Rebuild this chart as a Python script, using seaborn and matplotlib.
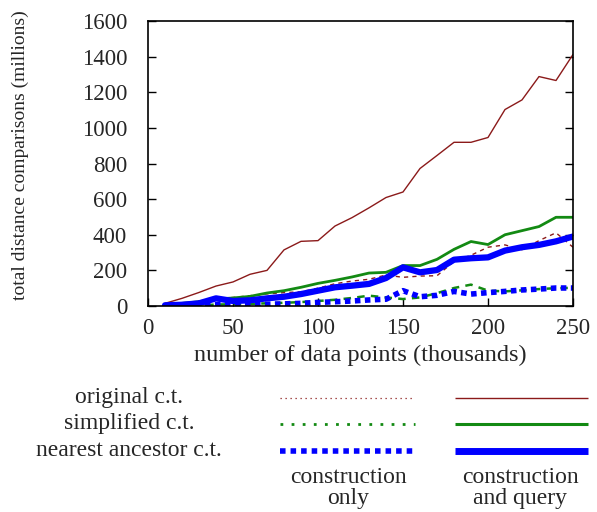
import numpy as np
import pandas as pd
import seaborn as sns
import matplotlib
matplotlib.use("Agg")
import matplotlib.pyplot as plt
from matplotlib.lines import Line2D

sns.set_style("ticks")
plt.rcParams['font.family'] = ['Liberation Serif', 'DejaVu Serif']

x_vals = [10, 20, 30, 40, 50, 60, 70, 80, 90, 100, 110, 120, 130, 140, 150,
          160, 170, 180, 190, 200, 210, 220, 230, 240, 250]

orig_cq = [15, 43, 76, 112, 135, 178, 200, 315, 363, 367, 449, 496, 551, 609, 640,
           772, 845, 919, 919, 946, 1103, 1157, 1288, 1266, 1412]
orig_c = [5, 15, 28, 40, 48, 58, 68, 75, 80, 100, 125, 140, 150, 174, 161,
          168, 170, 250, 285, 330, 343, 316, 367, 411, 330]
simp_cq = [7, 15, 24, 39, 45, 54, 73, 86, 105, 127, 144, 163, 185, 189, 227,
           227, 262, 318, 362, 345, 400, 423, 446, 498, 498]
simp_c = [1, 2, 3, 8, 10, 12, 15, 18, 22, 28, 35, 45, 58, 48, 39,
          48, 72, 101, 120, 86, 82, 88, 95, 100, 102]
near_cq = [4, 7, 15, 43, 28, 32, 43, 52, 67, 86, 105, 114, 124, 157, 217,
           189, 202, 260, 268, 273, 311, 330, 343, 363, 390]
near_c = [0, 0, 2, 8, 6, 8, 10, 12, 15, 20, 24, 28, 34, 38, 86,
          52, 60, 82, 67, 75, 82, 90, 95, 101, 101]

row_labels = ["original c.t.", "simplified c.t.", "nearest ancestor c.t."]
col_labels = ["construction\nonly", "construction\nand query"]
xlabel = "number of data points (thousands)"
ylabel = "total distance comparisons (millions)"

c_red = "#8b1a1a"
c_green = "#138a13"
c_blue = "#0000ff"

fig = plt.figure(figsize=(5.97, 5.12), dpi=100)
ax = fig.add_axes([148/597, 1-306/512, (573-148)/597, (306-21)/512])

series = [
    (orig_c, c_red, 1.0, (0, (3, 3))),
    (simp_c, c_green, 1.8, (0, (3, 2.5))),
    (near_c, c_blue, 4.0, (0, (1, 0.8))),
    (orig_cq, c_red, 1.0, '-'),
    (simp_cq, c_green, 2.0, '-'),
    (near_cq, c_blue, 4.5, '-'),
]
for vals, col, lw, ls in series:
    df = pd.DataFrame({"x": x_vals, "y": vals})
    sns.lineplot(data=df, x="x", y="y", ax=ax, color=col, linewidth=lw,
                 linestyle=ls, legend=False)

ax.set_xlim(0, 250)
ax.set_ylim(0, 1600)
ax.set_xticks([0, 50, 100, 150, 200, 250])
ax.set_yticks(range(0, 1601, 200))
ax.tick_params(direction='in', length=6, width=1, labelsize=16.5, right=True,
               top=False, color='black')
ax.tick_params(axis='x', pad=9)
ax.tick_params(axis='y', pad=15)
for s in ax.spines.values():
    s.set_linewidth(1.2)
    s.set_color('black')
ax.set_xlabel(xlabel, fontsize=17.5, labelpad=4)
ax.set_ylabel("")
fig.text(20/597, 1-155/512, ylabel, rotation=90, ha='center', va='center',
         fontsize=14)

# manual legend
rows_y = [398, 424, 451]
leg_styles = [
    [(c_red, 0.9, (0, (1, 3))), (c_red, 1.0, '-')],
    [(c_green, 2.0, (0, (1, 3))), (c_green, 2.2, '-')],
    [(c_blue, 4.0, (0, (1, 0.9))), (c_blue, 5.0, '-')],
]
for lab, yy, sty in zip(row_labels, rows_y, leg_styles):
    fy = 1 - yy/512
    fig.text(129/597, fy, lab, ha='center', va='center', fontsize=17)
    (c1, w1, l1), (c2, w2, l2) = sty
    fig.add_artist(Line2D([280/597, 415/597], [fy, fy], color=c1, lw=w1,
                          linestyle=l1, transform=fig.transFigure))
    fig.add_artist(Line2D([455/597, 588/597], [fy, fy], color=c2, lw=w2,
                          linestyle=l2, solid_capstyle='butt',
                          transform=fig.transFigure))
for lab, cx in zip(col_labels, [348, 520]):
    fig.text(cx/597, 1-488/512, lab, ha='center', va='center', fontsize=17,
             linespacing=1.05)

fig.savefig("out.png", dpi=100)
